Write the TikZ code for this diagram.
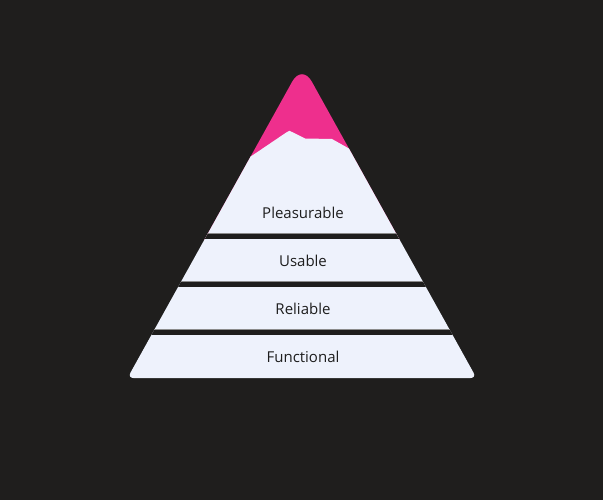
\documentclass[tikz,border=0pt]{standalone}
\usepackage{fontspec}
\setmainfont{Open Sans}
\definecolor{bg}{HTML}{1F1E1D}
\definecolor{pinkcap}{HTML}{EE2F8D}
\definecolor{snow}{HTML}{EEF2FC}
\definecolor{ink}{HTML}{1E1E1E}
\begin{document}
\begin{tikzpicture}[x=1pt,y=-1pt,
  label/.style={font=\fontsize{15}{17}\selectfont, text=ink, inner sep=0pt, anchor=center},
  gap/.style={fill=bg},
  shade/.style={draw=black!45, line width=0.8pt}]
\fill[bg] (0,0) rectangle (603,500);
\useasboundingbox (0,0) rectangle (603,500);
\begin{scope}
  \path[clip, rounded corners=6] (302,378) -- (476.5,378) -- (389.2,221)
     [rounded corners=20] -- (302,64) -- (214.8,221)
     [rounded corners=6] -- (127.5,378) -- cycle;
  \fill[pinkcap] (100,50) rectangle (500,240);
  \fill[snow] (240,163) -- (253,155) -- (287,132) .. controls (289.5,130.5) .. (292,132)
     -- (305,138.5) -- (332,139) -- (348,148) -- (360,155) -- (500,160) -- (500,400) -- (100,400) -- (100,163) -- cycle;
  \fill[gap] (100,234) rectangle (500,239);
  \fill[gap] (100,282) rectangle (500,287);
  \fill[gap] (100,330) rectangle (500,335);
  \draw[shade] (100,233.6) -- (500,233.6);
  \draw[shade] (100,281.6) -- (500,281.6);
  \draw[shade] (100,329.6) -- (500,329.6);
\end{scope}
\node[label] (pleasurable) at (303,213) {Pleasurable};
\node[label] (usable) at (303,261) {Usable};
\node[label] (reliable) at (303,309) {Reliable};
\node[label] (functional) at (303,357) {Functional};
\end{tikzpicture}
\end{document}
